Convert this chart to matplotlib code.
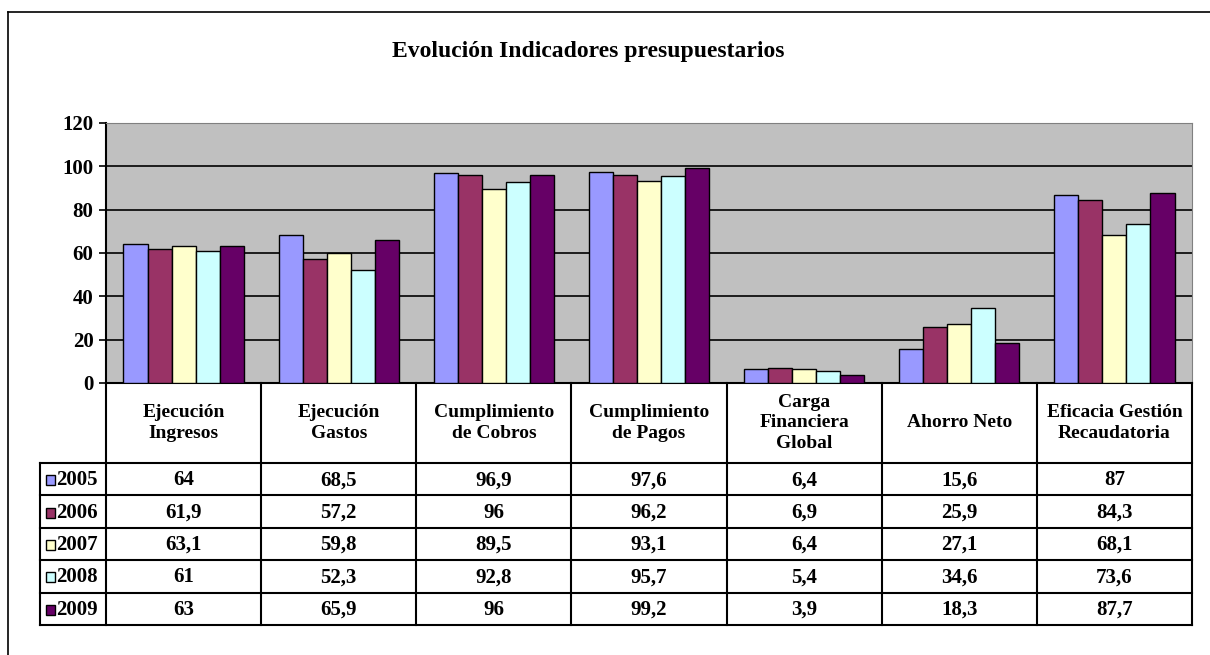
import matplotlib.pyplot as plt
import numpy as np

categories = ["Ejecución\nIngresos", "Ejecución\nGastos", "Cumplimiento\nde Cobros",
              "Cumplimiento\nde Pagos", "Carga\nFinanciera\nGlobal", "Ahorro Neto",
              "Eficacia Gestión\nRecaudatoria"]
years = ["2005", "2006", "2007", "2008", "2009"]
v2005 = [64, 68.5, 96.9, 97.6, 6.4, 15.6, 87]
v2006 = [61.9, 57.2, 96, 96.2, 6.9, 25.9, 84.3]
v2007 = [63.1, 59.8, 89.5, 93.1, 6.4, 27.1, 68.1]
v2008 = [61, 52.3, 92.8, 95.7, 5.4, 34.6, 73.6]
v2009 = [63, 65.9, 96, 99.2, 3.9, 18.3, 87.7]
series = [v2005, v2006, v2007, v2008, v2009]
colors = ["#9999FF", "#993366", "#FFFFCC", "#CCFFFF", "#660066"]

plt.rcParams['font.family'] = ['Liberation Serif', 'DejaVu Serif']
plt.rcParams['font.weight'] = 'bold'

W, H = 1210, 655
fig = plt.figure(figsize=(W / 100, H / 100), dpi=100)

def fx(px):
    return px / W

def fy(py):
    return 1 - py / H

# outer chart frame (top and left edges visible)
fig.add_artist(plt.Line2D([fx(8), 1], [fy(12), fy(12)], color="black", lw=1.2))
fig.add_artist(plt.Line2D([fx(8), fx(8)], [fy(12), 0], color="black", lw=1.2))

fig.text(fx(588), fy(52), "Evolución Indicadores presupuestarios", ha="center", va="center",
         fontsize=17, fontweight="bold")

left, right, top, zero, bottom = 106, 1192, 123, 383, 625
ax = fig.add_axes([fx(left), fy(zero), fx(right - left), fy(top) - fy(zero)])
ax.set_facecolor("#C0C0C0")
n = len(categories)
x = np.arange(n)
bw = 0.155
for i, (vals, c) in enumerate(zip(series, colors)):
    ax.bar(x + (i - 2) * bw, vals, bw, color=c, edgecolor="black", linewidth=1, zorder=3)
ax.set_xlim(-0.5, n - 0.5)
ax.set_ylim(0, 120)
ax.set_yticks(range(0, 121, 20))
ax.yaxis.grid(True, color="black", lw=1.2, zorder=0)
ax.set_axisbelow(True)
ax.set_xticks([])
ax.tick_params(axis="y", length=5, width=1.2, labelsize=15, pad=4)
for lab in ax.get_yticklabels():
    lab.set_fontweight("bold")
ax.spines["top"].set_color("#808080")
ax.spines["right"].set_color("#808080")
ax.spines["left"].set_linewidth(1.5)
ax.spines["bottom"].set_linewidth(1.5)

# data table below
tab = fig.add_axes([fx(left), fy(bottom), fx(right - left), fy(zero) - fy(bottom)])
tab.set_xlim(-0.5, n - 0.5)
tab.set_ylim(bottom - zero, 0)
tab.axis("off")
hdr = 80
rowh = (bottom - zero - hdr) / len(years)
legx = -0.5 - (left - 40) / ((right - left) / n)
lk = dict(color="black", lw=1.5, clip_on=False)
for b in np.arange(-0.5, n + 0.5, 1):
    tab.plot([b, b], [0, bottom - zero], **lk)
tab.plot([legx, legx], [hdr, bottom - zero], **lk)
for r in range(len(years) + 1):
    yy = hdr + r * rowh
    tab.plot([legx, n - 0.5], [yy, yy], **lk)
for j, cat in enumerate(categories):
    tab.text(j, hdr / 2, cat, ha="center", va="center", fontsize=14, fontweight="bold",
             linespacing=1.25)
cpx = (right - left) / n
for r, (yr, vals, c) in enumerate(zip(years, series, colors)):
    yc = hdr + (r + 0.5) * rowh + 1
    tab.add_patch(plt.Rectangle((legx + 6 / cpx, yc - 5), 9 / cpx, 10, facecolor=c,
                                edgecolor="black", lw=1, clip_on=False))
    tab.text(legx + 16 / cpx, yc, yr, ha="left", va="center", fontsize=15, fontweight="bold")
    for j, v in enumerate(vals):
        tab.text(j, yc, f"{v:g}".replace(".", ","), ha="center", va="center",
                 fontsize=15, fontweight="bold")

fig.savefig("out.png", dpi=100)
